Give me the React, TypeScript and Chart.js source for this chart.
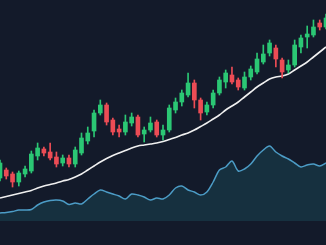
import React, { useEffect, useRef } from "react";
import { Chart, registerables } from "chart.js";

Chart.register(...registerables);

const labels: string[] = Array.from({ length: 53 }, (_, i) => `D${i + 1}`);

const open: number[] = [67, 75, 71, 63, 71, 74, 89, 96, 93, 88, 82, 87, 81, 92, 104, 114, 132, 140, 125, 116, 113, 122, 128, 111, 115, 123, 110, 115, 135, 143, 150, 162, 145, 133, 140, 152, 163, 170, 165, 157, 168, 173, 183, 192, 197, 185, 175, 180, 198, 208, 210, 222, 218];
const close: number[] = [82, 69, 63, 72, 76, 91, 97, 92, 87, 81, 87, 81, 95, 107, 112, 132, 140, 123, 113, 113, 123, 128, 110, 115, 122, 110, 115, 137, 143, 152, 162, 145, 132, 140, 152, 165, 172, 163, 158, 168, 176, 186, 191, 202, 186, 173, 180, 200, 207, 211, 218, 218, 227];
const high: number[] = [85, 77, 73, 74, 79, 94, 102, 98, 102, 93, 90, 90, 98, 112, 118, 135, 145, 142, 127, 120, 130, 132, 130, 118, 128, 125, 120, 140, 147, 155, 172, 165, 147, 143, 155, 168, 175, 178, 167, 173, 179, 192, 200, 205, 200, 187, 185, 205, 210, 219, 225, 225, 231];
const low: number[] = [64, 66, 58, 59, 68, 72, 85, 89, 85, 78, 79, 78, 78, 90, 101, 108, 130, 120, 110, 108, 110, 119, 108, 103, 113, 108, 105, 113, 132, 139, 148, 137, 125, 130, 137, 150, 157, 161, 155, 155, 165, 171, 181, 189, 178, 167, 172, 178, 192, 197, 208, 215, 216];
const movingAvg: number[] = [47, 48.5, 50, 51.5, 53, 54.5, 57, 59, 60.5, 62, 64, 65.5, 68, 71, 75, 79, 83, 86.5, 89.5, 92, 94.5, 97, 99, 100, 101, 102, 103.5, 105.5, 107.5, 110, 112, 115, 118.5, 122, 126, 130, 135, 139, 143, 148, 153, 158, 162, 166, 168, 169, 171, 175, 179, 183, 188, 193, 198];
const volume: number[] = [32, 32.5, 33.5, 35, 35, 35.5, 40, 43, 44.5, 45, 44, 40.5, 42, 41, 46, 51, 55, 53, 51, 49, 46, 51, 50, 48, 45, 47, 46, 50, 57, 59, 55, 53, 50, 53, 63, 75, 78, 84, 74, 76, 81, 89, 95, 99, 93, 89, 86, 82, 78, 80, 81, 79, 82];
const volumeBase = 24;

const UP = "#2bc774";
const DOWN = "#ec4c55";
const BG = "#131a2a";

export default function App() {
  const ref = useRef<HTMLCanvasElement | null>(null);
  useEffect(() => {
    if (!ref.current) return;
    const colors = open.map((o, i) => (close[i] >= o ? UP : DOWN));
    const chart = new Chart(ref.current, {
      type: "bar",
      data: {
        labels,
        datasets: [
          {
            type: "line",
            data: volume,
            borderColor: "#4c9cc6",
            borderWidth: 1.5,
            backgroundColor: "#16303f",
            fill: { value: volumeBase },
            pointRadius: 0,
            tension: 0.3,
            order: 4,
          } as any,
          {
            type: "line",
            data: movingAvg,
            borderColor: "#f0f0f0",
            borderWidth: 1.6,
            pointRadius: 0,
            cubicInterpolationMode: "monotone",
            fill: false,
            order: 3,
          } as any,
          {
            type: "bar",
            data: low.map((l, i) => [l, high[i]]),
            backgroundColor: colors,
            barThickness: 1,
            grouped: false,
            borderWidth: 0,
            order: 2,
          } as any,
          {
            type: "bar",
            data: open.map((o, i) => [o, close[i]]),
            backgroundColor: colors,
            barThickness: 4,
            grouped: false,
            borderWidth: 0,
            minBarLength: 2,
            order: 1,
          } as any,
        ],
      },
      options: {
        responsive: false,
        animation: false,
        devicePixelRatio: 1,
        layout: { padding: 0 },
        plugins: { legend: { display: false }, tooltip: { enabled: false } },
        scales: {
          x: { type: "category", display: false, offset: false, grid: { display: false } },
          y: { display: false, min: 0, max: 245, grid: { display: false } },
        },
      },
    });
    return () => chart.destroy();
  }, []);
  return (
    <div style={{ position: "fixed", left: 0, top: 0, width: 326, height: 245, background: BG }}>
      <canvas ref={ref} width={326} height={245} style={{ display: "block" }} />
    </div>
  );
}
